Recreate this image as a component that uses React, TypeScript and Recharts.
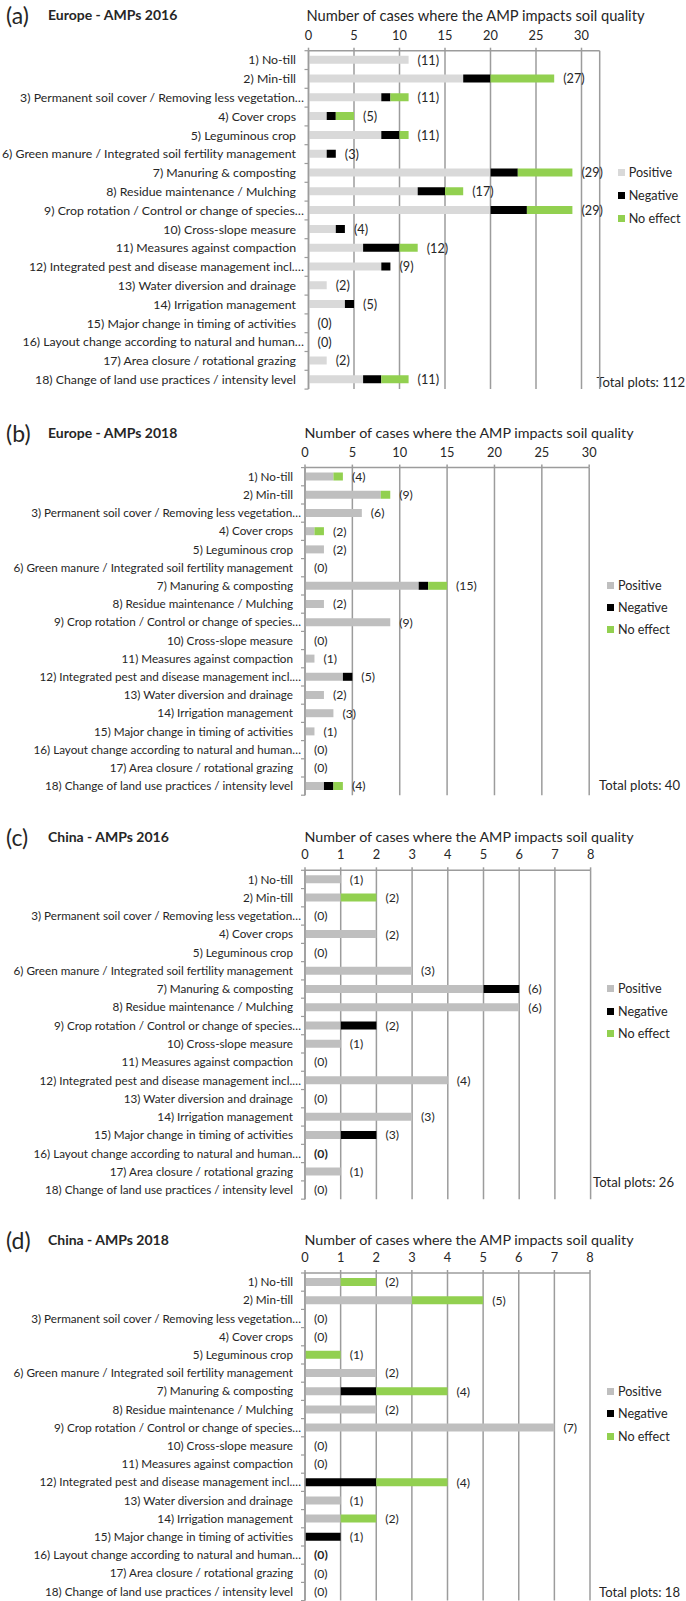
import { Bar, CartesianGrid, ComposedChart, LabelList, Line, XAxis, YAxis } from "recharts";

const practices = [
  "1) No-till",
  "2) Min-till",
  "3) Permanent soil cover / Removing less vegetation…",
  "4) Cover crops",
  "5) Leguminous crop",
  "6) Green manure / Integrated soil fertility management",
  "7) Manuring & composting",
  "8) Residue maintenance / Mulching",
  "9) Crop rotation / Control or change of species…",
  "10) Cross-slope measure",
  "11) Measures against compaction",
  "12) Integrated pest and disease management incl.…",
  "13) Water diversion and drainage",
  "14) Irrigation management",
  "15) Major change in timing of activities",
  "16) Layout change according to natural and human…",
  "17) Area closure / rotational grazing",
  "18) Change of land use practices / intensity level",
];

// (a) Europe 2016
const eu16Positive = [11, 17, 8, 2, 8, 2, 20, 12, 20, 3, 6, 8, 2, 4, 0, 0, 2, 6];
const eu16Negative = [0, 3, 1, 1, 2, 1, 3, 3, 4, 1, 4, 1, 0, 1, 0, 0, 0, 2];
const eu16NoEffect = [0, 7, 2, 2, 1, 0, 6, 2, 5, 0, 2, 0, 0, 0, 0, 0, 0, 3];
const eu16Totals = [11, 27, 11, 5, 11, 3, 29, 17, 29, 4, 12, 9, 2, 5, 0, 0, 2, 11];

// (b) Europe 2018
const eu18Positive = [3, 8, 6, 1, 2, 0, 12, 2, 9, 0, 1, 4, 2, 3, 1, 0, 0, 2];
const eu18Negative = [0, 0, 0, 0, 0, 0, 1, 0, 0, 0, 0, 1, 0, 0, 0, 0, 0, 1];
const eu18NoEffect = [1, 1, 0, 1, 0, 0, 2, 0, 0, 0, 0, 0, 0, 0, 0, 0, 0, 1];
const eu18Totals = [4, 9, 6, 2, 2, 0, 15, 2, 9, 0, 1, 5, 2, 3, 1, 0, 0, 4];

// (c) China 2016
const cn16Positive = [1, 1, 0, 2, 0, 3, 5, 6, 1, 1, 0, 4, 0, 3, 1, 0, 1, 0];
const cn16Negative = [0, 0, 0, 0, 0, 0, 1, 0, 1, 0, 0, 0, 0, 0, 1, 0, 0, 0];
const cn16NoEffect = [0, 1, 0, 0, 0, 0, 0, 0, 0, 0, 0, 0, 0, 0, 0, 0, 0, 0];
const cn16Totals = [1, 2, 0, 2, 0, 3, 6, 6, 2, 1, 0, 4, 0, 3, 3, 0, 1, 0];

// (d) China 2018
const cn18Positive = [1, 3, 0, 0, 0, 2, 1, 2, 7, 0, 0, 0, 1, 1, 0, 0, 0, 0];
const cn18Negative = [0, 0, 0, 0, 0, 0, 1, 0, 0, 0, 0, 2, 0, 0, 1, 0, 0, 0];
const cn18NoEffect = [1, 2, 0, 0, 1, 0, 2, 0, 0, 0, 0, 2, 0, 1, 0, 0, 0, 0];
const cn18Totals = [2, 5, 0, 0, 1, 2, 4, 2, 7, 0, 0, 4, 1, 2, 1, 0, 0, 0];

const euroTicks = [0, 5, 10, 15, 20, 25, 30];
const chinaTicks = [0, 1, 2, 3, 4, 5, 6, 7, 8];

const FONT = "Lato, Roboto, sans-serif";
const GRID = "#9c9c9c";
const TEXT = "#262626";
const NEG = "#000000";
const NOEFF = "#92d050";

type PanelProps = {
  top: number;
  height: number;
  letter: string;
  region: string;
  positive: number[];
  negative: number[];
  noEffect: number[];
  totals: number[];
  ticks: number[];
  max: number;
  posColor: string;
  titleY: number;
  axisTitleCenter: number;
  axisTitleSize: number;
  catSize: number;
  valueSize: number;
  plotTop: number;
  band: number;
  plotLeft: number;
  plotRight: number;
  labelGap: number;
  legendLeft: number;
  legendTop: number;
  legendGap: number;
  totalText: string;
  totalRight: number;
  totalY: number;
  boldRow?: number;
};

function Panel(p: PanelProps) {
  const rows = practices.map((name, i) => ({
    name,
    pos: p.positive[i],
    neg: p.negative[i],
    noEff: p.noEffect[i],
    end: p.positive[i] + p.negative[i] + p.noEffect[i],
    total: p.totals[i],
  }));
  const plotHeight = p.band * practices.length;
  const axisH = 30;

  const catTick = (props: any) => {
    const { x, y, payload, index } = props;
    const ax = p.plotLeft;
    // truncated labels hang closer to the axis, like the original
    const shift = String(payload.value).endsWith("…") ? 8 : 0;
    return (
      <g>
        <text x={x + shift} y={y} dy="0.35em" textAnchor="end" fontSize={p.catSize} fontFamily={FONT} fill={TEXT}>
          {payload.value}
        </text>
        <line x1={ax - 4} x2={ax} y1={y - p.band / 2} y2={y - p.band / 2} stroke={GRID} strokeWidth={1.2} />
        {index === practices.length - 1 && (
          <line x1={ax - 4} x2={ax} y1={y + p.band / 2} y2={y + p.band / 2} stroke={GRID} strokeWidth={1.2} />
        )}
      </g>
    );
  };

  const totalLabel = (props: any) => {
    const { x, y, value, index } = props;
    return (
      <text
        x={Number(x) + 9}
        y={Number(y)}
        dy="0.35em"
        fontSize={p.valueSize}
        fontFamily={FONT}
        fill={TEXT}
        fontWeight={p.boldRow === index + 1 ? "bold" : "normal"}
      >
        ({value})
      </text>
    );
  };

  const legendItems = [
    { label: "Positive", color: p.posColor },
    { label: "Negative", color: NEG },
    { label: "No effect", color: NOEFF },
  ];

  return (
    <div style={{ position: "absolute", top: p.top, left: 0, width: 686, height: p.height, fontFamily: FONT, color: TEXT }}>
      <div style={{ position: "absolute", left: 6, top: p.titleY - 15, lineHeight: "30px", fontSize: 23 }}>
        ({p.letter})
      </div>
      <div
        style={{
          position: "absolute",
          left: 48,
          top: p.titleY - 10,
          lineHeight: "20px",
          fontSize: 14,
          fontWeight: "bold",
          whiteSpace: "nowrap",
        }}
      >
        {p.region}
      </div>
      <div
        style={{
          position: "absolute",
          left: p.axisTitleCenter - 200,
          width: 400,
          textAlign: "center",
          top: p.titleY - 10,
          lineHeight: "20px",
          fontSize: p.axisTitleSize,
          whiteSpace: "nowrap",
        }}
      >
        Number of cases where the AMP impacts soil quality
      </div>
      <div style={{ position: "absolute", left: p.legendLeft, top: p.legendTop - p.legendGap * 1.5, fontSize: 12.6 }}>
        {legendItems.map((it) => (
          <div key={it.label} style={{ height: p.legendGap, display: "flex", alignItems: "center" }}>
            <span style={{ width: 7, height: 7, background: it.color, display: "inline-block", marginRight: 4 }} />
            <span>{it.label}</span>
          </div>
        ))}
      </div>
      <div
        style={{
          position: "absolute",
          right: 686 - p.totalRight,
          top: p.totalY - 10,
          lineHeight: "20px",
          fontSize: 13.1,
          whiteSpace: "nowrap",
        }}
      >
        {p.totalText}
      </div>
      <ComposedChart
        width={686}
        height={p.height}
        data={rows}
        layout="vertical"
        margin={{
          top: p.plotTop - axisH,
          right: 686 - p.plotRight,
          bottom: p.height - p.plotTop - plotHeight,
          left: 0,
        }}
      >
        <CartesianGrid horizontal={false} stroke={GRID} strokeWidth={1.5} />
        <XAxis
          type="number"
          orientation="top"
          domain={[0, p.max]}
          ticks={p.ticks}
          height={axisH}
          axisLine={{ stroke: GRID, strokeWidth: 1.5 }}
          tickLine={{ stroke: GRID, strokeWidth: 1.5 }}
          tickSize={3}
          tickMargin={8}
          tick={{ fontSize: 12.8, fontFamily: FONT, fill: TEXT }}
          allowDataOverflow
        />
        <YAxis
          type="category"
          dataKey="name"
          width={p.plotLeft}
          interval={0}
          axisLine={{ stroke: GRID, strokeWidth: 1.5 }}
          tickLine={false}
          tickSize={0}
          tickMargin={p.labelGap}
          tick={catTick}
        />
        <Bar dataKey="pos" stackId="s" fill={p.posColor} barSize={8} isAnimationActive={false} />
        <Bar dataKey="neg" stackId="s" fill={NEG} barSize={8} isAnimationActive={false} />
        <Bar dataKey="noEff" stackId="s" fill={NOEFF} barSize={8} isAnimationActive={false} />
        <Line dataKey="end" stroke="none" dot={false} activeDot={false} isAnimationActive={false}>
          <LabelList dataKey="total" content={totalLabel} />
        </Line>
      </ComposedChart>
    </div>
  );
}

export default function App() {
  return (
    <div style={{ position: "relative", width: 686, height: 1601, background: "#fff" }}>
      <style>{"body{margin:0;}"}</style>
      <Panel
        top={0}
        height={405}
        letter="a"
        region="Europe - AMPs 2016"
        positive={eu16Positive}
        negative={eu16Negative}
        noEffect={eu16NoEffect}
        totals={eu16Totals}
        ticks={euroTicks}
        max={32}
        posColor="#d9d9d9"
        titleY={15}
        axisTitleCenter={475.5}
        axisTitleSize={14.7}
        catSize={12.3}
        valueSize={12.7}
        plotTop={50.7}
        band={18.8}
        plotLeft={308.5}
        plotRight={599.7}
        labelGap={12.5}
        legendLeft={617.7}
        legendTop={195.7}
        legendGap={22.8}
        totalText="Total plots: 112"
        totalRight={685}
        totalY={381.7}
      />
      <Panel
        top={405}
        height={410}
        letter="b"
        region="Europe - AMPs 2018"
        positive={eu18Positive}
        negative={eu18Negative}
        noEffect={eu18NoEffect}
        totals={eu18Totals}
        ticks={euroTicks}
        max={30}
        posColor="#bfbfbf"
        titleY={28.3}
        axisTitleCenter={469}
        axisTitleSize={14.3}
        catSize={11.7}
        valueSize={12.2}
        plotTop={62.6}
        band={18.2}
        plotLeft={305}
        plotRight={589.2}
        labelGap={12}
        legendLeft={607}
        legendTop={202.7}
        legendGap={22.2}
        totalText="Total plots: 40"
        totalRight={680}
        totalY={380}
      />
      <Panel
        top={815}
        height={400}
        letter="c"
        region="China - AMPs 2016"
        positive={cn16Positive}
        negative={cn16Negative}
        noEffect={cn16NoEffect}
        totals={cn16Totals}
        ticks={chinaTicks}
        max={8}
        posColor="#bfbfbf"
        titleY={21.7}
        axisTitleCenter={469}
        axisTitleSize={14.3}
        catSize={11.7}
        valueSize={12.2}
        plotTop={55.3}
        band={18.27}
        plotLeft={305}
        plotRight={590.6}
        labelGap={12}
        legendLeft={607}
        legendTop={196.3}
        legendGap={22.5}
        totalText="Total plots: 26"
        totalRight={674}
        totalY={366.7}
        boldRow={16}
      />
      <Panel
        top={1215}
        height={386}
        letter="d"
        region="China - AMPs 2018"
        positive={cn18Positive}
        negative={cn18Negative}
        noEffect={cn18NoEffect}
        totals={cn18Totals}
        ticks={chinaTicks}
        max={8}
        posColor="#bfbfbf"
        titleY={25}
        axisTitleCenter={469}
        axisTitleSize={14.3}
        catSize={11.7}
        valueSize={12.2}
        plotTop={58}
        band={18.2}
        plotLeft={305}
        plotRight={590}
        labelGap={12}
        legendLeft={607}
        legendTop={198.9}
        legendGap={22.2}
        totalText="Total plots: 18"
        totalRight={680}
        totalY={376.7}
        boldRow={16}
      />
    </div>
  );
}
